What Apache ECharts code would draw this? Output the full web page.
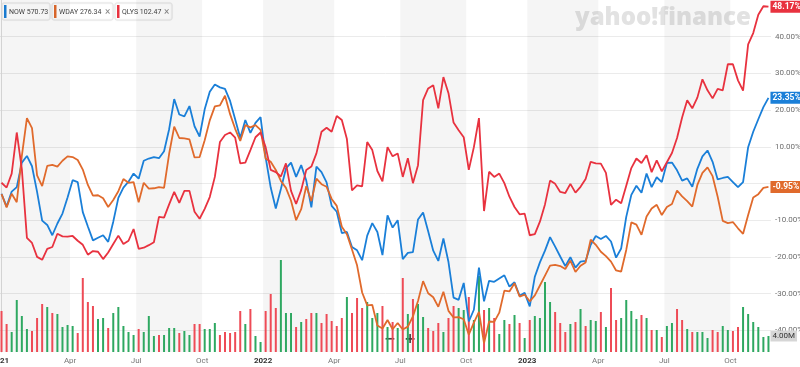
<!DOCTYPE html>
<html><head><meta charset="utf-8">
<script src="https://cdn.jsdelivr.net/npm/echarts/dist/echarts.min.js"></script>
<style>html,body{margin:0;padding:0;background:#fff;overflow:hidden}#chart{width:800px;height:367px}</style>
</head><body><div id="chart"></div>
<script>
// ---- data (weekly, % change since first week) ----
const tickers = ['NOW', 'WDAY', 'QLYS'];
const lastPrices = ['570.73', '276.34', '102.47'];
const nowPct = [-2.8,-6.3,-2.2,-1,5.7,7.5,4.7,-2.3,-10.1,-11.3,
-14.1,-10.9,-8.2,-3.8,0.9,0.4,-7.8,-11.7,-15.5,-14.8,
-14.1,-15.9,-10.4,-3.9,-1.1,0.5,2.7,1.3,6.2,6.8,
7.2,6.9,8.8,14.8,23,18.8,18.3,21.1,15.6,12.8,
20.2,25,27,26.2,25.8,22.5,17.5,12.4,17.3,13.8,
16.5,18.1,7.1,-1.1,-6.8,-1.5,4.1,5.7,1.8,5,
0.8,-6.5,4.6,3.1,0.3,-6.1,-7.7,-13.5,-13.2,-17.3,
-18.2,-20.9,-14.2,-10.8,-13.2,-19.5,-8.7,-12,-10,-20.6,
-18.9,-18.7,-9.8,-7.9,-13,-18.3,-21.1,-15,-21.4,-31.1,
-31.7,-27.1,-37.6,-34.4,-22.9,-32.1,-26.5,-26.8,-25.9,-25,
-28.1,-26.9,-30.6,-29.8,-33.5,-25.4,-21.5,-18.3,-14.6,-17.2,
-19.9,-22.5,-20.1,-22.9,-21.3,-21.1,-16.7,-14.3,-15.1,-14.3,
-15.8,-20.2,-17.7,-9.1,-3.1,-0.6,-2.5,2.7,-1,1.7,
0.4,5.6,5.7,3.6,0.8,1.4,-0.9,4,7.4,9,
5.9,1.1,1.5,1.8,0.4,-1,0.4,9.9,14.1,17.5,
20.8,23.35];
const wdayPct = [-2.9,-6.5,-2.8,-5.1,7.5,17.8,15.1,2.2,-0.7,4.8,
5.1,4.6,6.2,7.4,7.2,6.4,3.8,-0.4,-3.3,-3.2,
-4,-6.4,-4.5,-2.1,1.2,0.2,0.4,-5.1,0.2,-1.4,
-1.3,-1,-1.2,8.1,15.5,12.4,12.3,12,7.1,7.2,
11.8,17.2,21,21.3,23.9,18.9,14.9,11.6,15.9,15.3,
15.9,14.6,6.8,5.9,3.7,0.7,-1.2,-4.7,-10,-7,
-0.7,-4.8,1.3,-0.2,-0.9,-4.2,-6.1,-11.8,-13.8,-18,
-22.3,-29.7,-33.2,-33.1,-38.7,-39.5,-37.2,-39.7,-38,-39.8,
-39,-36.2,-32,-26.6,-29.9,-31,-33.6,-29.5,-34.7,-36.5,
-36.4,-37,-41.2,-37.9,-35,-43.5,-37.6,-37.7,-35.2,-29.2,
-29.4,-27.2,-30.8,-30.3,-32.1,-30.5,-27.8,-25.1,-22.4,-22.2,
-22.5,-23.3,-21,-24.1,-22.4,-21.5,-15.3,-16.7,-18.6,-19.8,
-21.3,-23.7,-24,-18.1,-10.6,-11.2,-14,-9,-6.8,-5.8,
-8.6,-6.4,-5.6,-1.9,-3.5,-4.8,-6.3,-0.4,2.9,4.4,
2,-3.6,-10.2,-10.8,-10.5,-12.2,-13.7,-8.6,-3.8,-2.9,
-1.2,-0.95];
const qlysPct = [0.2,-1.1,2.7,13.9,3.9,-14.8,-16.2,-20,-20.8,-17.8,
-17.3,-13.7,-14.4,-14.5,-14.3,-15.6,-16.7,-19.4,-18.4,-18.6,
-20.6,-18.8,-16.5,-14.2,-16.5,-15.6,-12.4,-17.8,-17.5,-16.8,
-16,-9.1,-9.3,-5.7,-2.3,-5.3,-2,-2,-7.7,-9.6,
-6.9,-3.7,1.8,11.3,13.2,13.9,12.5,5.5,5.7,9.1,
12.6,13.9,9.9,3.7,3.1,1.9,5.5,-2,-5.6,-1.8,
3.7,4.6,8.2,14.1,15.2,14.1,18.4,17.3,12.1,-1.9,
-0.5,-0.8,11.3,9.1,3.4,0.6,9.9,7.4,8.2,1.8,
6.9,0.1,5,22.7,25.9,26.8,20.5,29,24.6,16.6,
14.5,12.6,3.7,9.9,17.8,-7.5,3.2,1.8,2.7,0.1,
-3.6,-6.4,-8.4,-8.2,-14.1,-13.8,-10.4,-5.7,0.8,-0.1,
-2.3,-2.6,-0.1,-2.5,-0.9,1.2,5.9,5.5,5.4,2.9,
-5.8,-4.4,-5.4,-0.6,4.2,6.8,5.6,7.7,3.1,6.3,
3.3,5.8,8.3,12.4,18,22.7,20.5,23.4,28.4,25.4,
23.2,25.8,25.4,32.5,32.5,28.1,25.3,37.9,41,46,
48.3,48.17];
// weekly volume, millions
const volume = [10.25,7,5,13,9,5.75,5.25,8.5,12,11.25,9.75,9.5,6.25,6.75,6.5,4.75,18.5,12.5,11.5,8.25,8.5,6,9.75,11.25,6.5,5,4.25,5.75,5,9,4,4.25,4.25,6,6,4.75,5.25,4.25,7,7,5.75,5.75,7.25,4.25,5,4.75,5,10.25,7,10.75,4,2.5,10.25,
14.5,11,23,9.75,9.75,6.25,7.5,8.25,9.75,9.75,7.25,9.5,7.75,6.5,8.5,13.75,9.75,13.5,11,12.5,8.5,9.75,11.5,6.25,7.5,6,18.5,9.5,13.25,12,8.75,6,5.25,7.25,5,8.5,11.5,11,10.5,13.75,8,19,10.5,11,8.5,4.5,8,7,9.25,7.25,3.5,
8,9,8.5,17.5,12.5,10,7.25,5,7,7.5,10.75,6.5,8,7.75,10,6.25,16,8,8.5,13,10.25,8.25,9.25,8.5,5.5,5.5,3.75,6.5,7.25,10.75,8,5.75,5,5,5,3.5,5.5,5,6.5,5.5,5.25,6.25,11.25,9.5,7.5,6.25,3.75,4];
// g = up week, r = down week
const volumeDir = 'rrggggrrrg' + 'rggggrrrrg' + 'grgggggrgg' + 'grgggrggrr' + 'gggrrrrrgr' + 'ggr' +
  'rrgggrgrrg' + 'rrrrrgrrrg' + 'ggrgrgrgrg' + 'grrrgrrggr' + 'ggrgrggrgr' + 'g' +
  'rggggrrrgr' + 'grggrgrrgg' + 'ggrgrgrggr' + 'rgrgggrrgg' + 'rrgggggg';
// x-axis quarter ticks (in week index units) and labels
const quarterTicks = [-0.3, 13.5, 26.5, 39.5, 51.5, 65.5, 78.5, 91.5, 103.5, 117.5, 130.5, 143.5];
const quarterLabels = ['2021','Apr','Jul','Oct','2022','Apr','Jul','Oct','2023','Apr','Jul','Oct'];
const shadedQuarters = [[-0.3, 13.5], [26.5, 39.5], [51.5, 65.5], [78.5, 91.5], [103.5, 117.5], [130.5, 143.5]];
const pctGridLines = [-40, -30, -20, -10, 0, 10, 20, 30, 40];

// ---- style ----
const COLORS = ['#1a7fd8', '#e06a2c', '#e8323f'];
const UP = '#2ea861', DOWN = '#ee4b56';
const FONT = 'Roboto, "Liberation Sans", sans-serif';

const chart = echarts.init(document.getElementById('chart'), null, {renderer: 'canvas'});
const series = [];
series.push({
  type: 'bar', xAxisIndex: 1, yAxisIndex: 1, barWidth: 2, z: 1, silent: true,
  data: volume.map((v, i) => {
    const item = {value: [i, v], itemStyle: {color: volumeDir[i] === 'g' ? UP : DOWN}};
    if (i === volume.length - 1) {
      item.label = {show: true, position: ['100%', 0], align: 'left', verticalAlign: 'middle', offset: [1, 0],
        formatter: v.toFixed(2) + 'M', backgroundColor: '#d6d6d6', color: '#333', fontSize: 8,
        fontFamily: FONT, padding: [2, 2, 1, 2]};
    }
    return item;
  }),
  markArea: {silent: true, itemStyle: {color: 'rgba(0,0,0,0.04)'},
    data: shadedQuarters.map(q => [{xAxis: q[0]}, {xAxis: q[1]}])}
});
const pctSeries = [nowPct, wdayPct, qlysPct];
pctSeries.forEach((arr, k) => {
  const s = {
    type: 'line', name: tickers[k], xAxisIndex: 0, yAxisIndex: 0, z: 3 + k,
    showSymbol: false, symbol: 'none', silent: true,
    data: arr.map((v, i) => [i, v]),
    lineStyle: {color: COLORS[k], width: 1.8}, itemStyle: {color: COLORS[k]},
    endLabel: {show: true, distance: 2, formatter: p => p.value[1].toFixed(2) + '%',
      backgroundColor: COLORS[k], color: '#fff', fontSize: 8.5, fontWeight: 'bold', fontFamily: FONT, padding: [2, 2, 1, 2]}
  };
  if (k === 0) {
    s.markLine = {silent: true, symbol: 'none', label: {show: false}, z: 0,
      lineStyle: {color: '#ebebeb', type: 'solid', width: 1},
      data: pctGridLines.map(v => ({yAxis: v}))};
  }
  series.push(s);
});

function legendBox(x, w, k, withClose) {
  const children = [
    {type: 'rect', shape: {x: 0, y: 0, width: w, height: 17, r: 2}, style: {fill: '#fff', stroke: '#e6e6e6', lineWidth: 1, shadowBlur: 2, shadowColor: 'rgba(0,0,0,0.08)'}},
    {type: 'rect', shape: {x: 2, y: 2, width: 2.5, height: 13}, style: {fill: COLORS[k]}},
    {type: 'text', x: 7, y: 9, style: {text: tickers[k] + ' ' + lastPrices[k], fill: '#444', font: '7px ' + FONT, verticalAlign: 'middle'}}
  ];
  if (withClose) children.push({type: 'text', x: w - 8, y: 9, style: {text: '×', fill: '#888', font: '10px ' + FONT, verticalAlign: 'middle'}});
  return {type: 'group', x: x, y: 3, z: 100, children: children};
}

chart.setOption({
  animation: false,
  grid: [
    {left: 0, right: 29, top: 0, bottom: 0, outerBoundsMode: 'none'},
    {left: 0, right: 29, top: 0, bottom: 15, outerBoundsMode: 'none'}
  ],
  xAxis: [
    {type: 'value', gridIndex: 0, min: -0.3, max: 151.5, show: false},
    {type: 'value', gridIndex: 1, min: -0.3, max: 151.5,
      axisLine: {show: false}, axisTick: {show: false}, splitLine: {show: false},
      axisLabel: {customValues: quarterTicks, margin: 5, fontFamily: FONT, alignMinLabel: 'center',
        formatter: v => {
          const idx = quarterTicks.indexOf(v);
          const t = idx >= 0 ? quarterLabels[idx] : '';
          return /^\d{4}$/.test(t) ? '{y|' + t + '}' : '{m|' + t + '}';
        },
        rich: {y: {fontSize: 8, fontWeight: 'bold', color: '#333', fontFamily: FONT},
               m: {fontSize: 8, color: '#777', fontFamily: FONT}}}}
  ],
  yAxis: [
    {type: 'value', gridIndex: 0, position: 'right', min: -50, max: 50, interval: 10,
      axisLine: {show: false}, axisTick: {show: false}, splitLine: {show: false},
      axisLabel: {margin: 4, color: '#6e6e6e', fontSize: 8, fontFamily: FONT,
        formatter: v => Math.abs(v) >= 50 ? '' : v.toFixed(2) + '%'}},
    {type: 'value', gridIndex: 1, position: 'right', min: 0, max: 88,
      axisLine: {show: true, lineStyle: {color: '#dcdcdc'}}, axisTick: {show: false},
      splitLine: {show: false}, axisLabel: {show: false}}
  ],
  graphic: [
    {type: 'text', left: 575, top: 6, z: 0, style: {text: 'yahoo!finance', fill: '#e2e2e2', font: '800 24px "Open Sans", sans-serif'}},
    legendBox(2, 48, 0, false),
    legendBox(52, 61, 1, true),
    legendBox(115, 57, 2, true),
    {type: 'group', x: 379, y: 331, z: 100, children: [
      {type: 'rect', shape: {x: 0, y: 0, width: 40, height: 16}, style: {fill: 'rgba(255,255,255,0.75)'}},
      {type: 'text', x: 11, y: 8, style: {text: '−', fill: '#444', font: 'bold 14px "DejaVu Sans", sans-serif', align: 'center', verticalAlign: 'middle'}},
      {type: 'text', x: 31, y: 8, style: {text: '+', fill: '#444', font: 'bold 14px "DejaVu Sans", sans-serif', align: 'center', verticalAlign: 'middle'}}
    ]}
  ],
  series: series
});
</script></body></html>
